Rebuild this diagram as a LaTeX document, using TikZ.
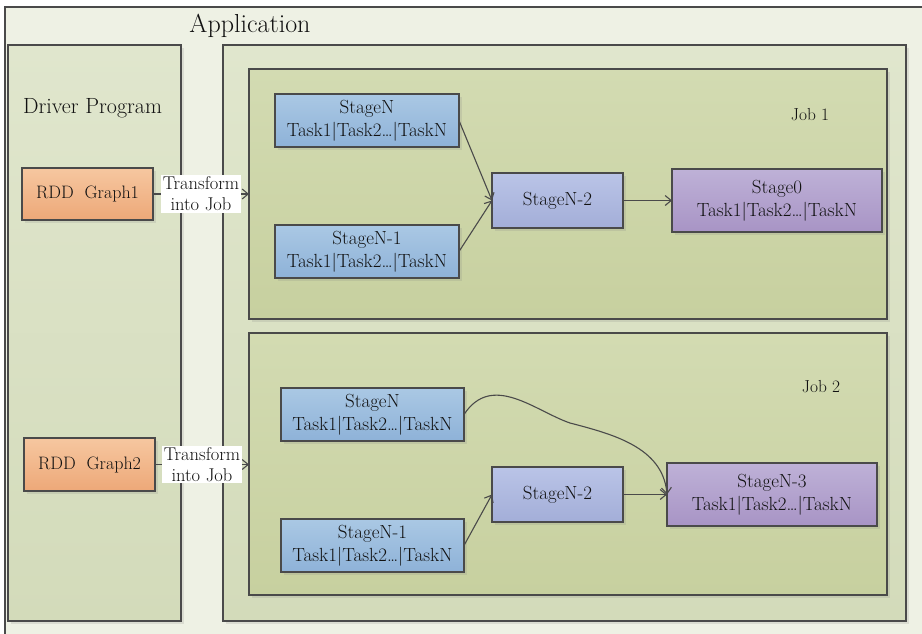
\documentclass[tikz,border=0pt]{standalone}
\usetikzlibrary{shadows,arrows.meta}
\definecolor{appfill}{HTML}{EEF1E4}
\definecolor{contop}{HTML}{E0E6CD}
\definecolor{conbot}{HTML}{D3DBBA}
\definecolor{jobtop}{HTML}{D3DBB2}
\definecolor{jobbot}{HTML}{C7D09F}
\definecolor{bluetop}{HTML}{AAC8E4}
\definecolor{bluebot}{HTML}{8EB2D8}
\definecolor{lavtop}{HTML}{BAC4E7}
\definecolor{lavbot}{HTML}{A3AED8}
\definecolor{purtop}{HTML}{BEB1D7}
\definecolor{purbot}{HTML}{A894C5}
\definecolor{ortop}{HTML}{F6C7A0}
\definecolor{orbot}{HTML}{EDA878}
\definecolor{edge}{HTML}{4A4A4A}
\definecolor{ink}{HTML}{111111}
\tikzset{
  box/.style={draw=edge, line width=1.1pt, inner sep=0pt, outer sep=0pt,
    drop shadow={opacity=0.18, shadow xshift=2.5pt, shadow yshift=-2.5pt}},
  container/.style={box, top color=contop, bottom color=conbot},
  jobbox/.style={box, top color=jobtop, bottom color=jobbot},
  txt/.style={font=\fontsize{19}{23}\selectfont, align=center, text=ink},
  bluestage/.style={box, txt, top color=bluetop, bottom color=bluebot},
  lavstage/.style={box, txt, top color=lavtop, bottom color=lavbot},
  purstage/.style={box, txt, top color=purtop, bottom color=purbot},
  rddbox/.style={box, txt, font=\fontsize{18}{23}\selectfont, top color=ortop, bottom color=orbot},
  conn/.style={draw=edge, line width=1.1pt, -{Straight Barb[length=6pt,width=10pt]}},
  translabel/.style={fill=white, inner sep=1.5pt, text=ink, font=\fontsize{18.5}{21}\selectfont, align=center},
  titletxt/.style={anchor=base, inner sep=0pt, text=ink}
}
\begin{document}
\begin{tikzpicture}[x=1pt,y=-1pt]
\useasboundingbox (0,0) rectangle (922,633);
\clip (0,0) rectangle (922,633);
% containers
\node[draw=edge, line width=1.1pt, fill=appfill, inner sep=0pt, minimum width=925pt, minimum height=640pt] (app) at (467.5,327) {};
\node[container, minimum width=173pt, minimum height=576pt] (driver) at (94.5,333) {};
\node[container, minimum width=683pt, minimum height=576pt] (jobs) at (564.5,333) {};
\node[jobbox, minimum width=638pt, minimum height=250pt] (job1) at (568,194) {};
\node[jobbox, minimum width=638pt, minimum height=262pt] (job2) at (568,464) {};
% titles
\node[titletxt, font=\fontsize{26}{30}\selectfont] (apptitle) at (250,32) {Application};
\node[titletxt, font=\fontsize{22}{26}\selectfont] (drivertitle) at (92.5,113) {Driver Program};
\node[titletxt, font=\fontsize{17.4}{20}\selectfont] (job1title) at (810,120) {Job 1};
\node[titletxt, font=\fontsize{17.4}{20}\selectfont] (job2title) at (821,392) {Job 2};
% RDD graphs
\node[rddbox, minimum width=131pt, minimum height=52pt] (rdd1) at (87.5,194) {RDD\ \ Graph1};
\node[rddbox, minimum width=131pt, minimum height=53pt] (rdd2) at (89.5,464.5) {RDD\ \ Graph2};
% Job 1 stages
\node[bluestage, minimum width=184pt, minimum height=53pt] (j1sn) at (367,120.5) {StageN\\Task1|Task2…|TaskN};
\node[bluestage, minimum width=184pt, minimum height=53pt] (j1sn1) at (367,251.5) {StageN-1\\Task1|Task2…|TaskN};
\node[lavstage, minimum width=131pt, minimum height=55pt] (j1sn2) at (557.5,200.5) {StageN-2};
\node[purstage, minimum width=210pt, minimum height=63pt] (j1s0) at (777,200.5) {Stage0\\Task1|Task2…|TaskN};
% Job 2 stages
\node[bluestage, minimum width=183pt, minimum height=53pt] (j2sn) at (372.5,414.5) {StageN\\Task1|Task2…|TaskN};
\node[bluestage, minimum width=183pt, minimum height=53pt] (j2sn1) at (372.5,545.5) {StageN-1\\Task1|Task2…|TaskN};
\node[lavstage, minimum width=131pt, minimum height=55pt] (j2sn2) at (557.5,494.5) {StageN-2};
\node[purstage, minimum width=210pt, minimum height=63pt] (j2sn3) at (772,494.5) {StageN-3\\Task1|Task2…|TaskN};
% transform arrows
\draw[conn] (rdd1.east) -- (rdd1.east -| job1.west) node[midway, translabel] (tr1) {Transform\\into Job};
\draw[conn] (rdd2.east) -- (rdd2.east -| job2.west) node[midway, translabel] (tr2) {Transform\\into Job};
% job 1 arrows
\draw[conn] (j1sn.east) -- (j1sn2.west);
\draw[conn] (j1sn1.east) -- (j1sn2.west);
\draw[conn] (j1sn2.east) -- (j1s0.west);
% job 2 arrows
\draw[conn] (j2sn1.east) -- (j2sn2.west);
\draw[conn] (j2sn2.east) -- (j2sn3.west);
\coordinate (cmid) at (570,423);
\draw[conn] (j2sn.east) .. controls (492,372) and (535,411) .. (cmid)
  .. controls (612,434) and (663,447) .. (j2sn3.west);
\end{tikzpicture}
\end{document}
